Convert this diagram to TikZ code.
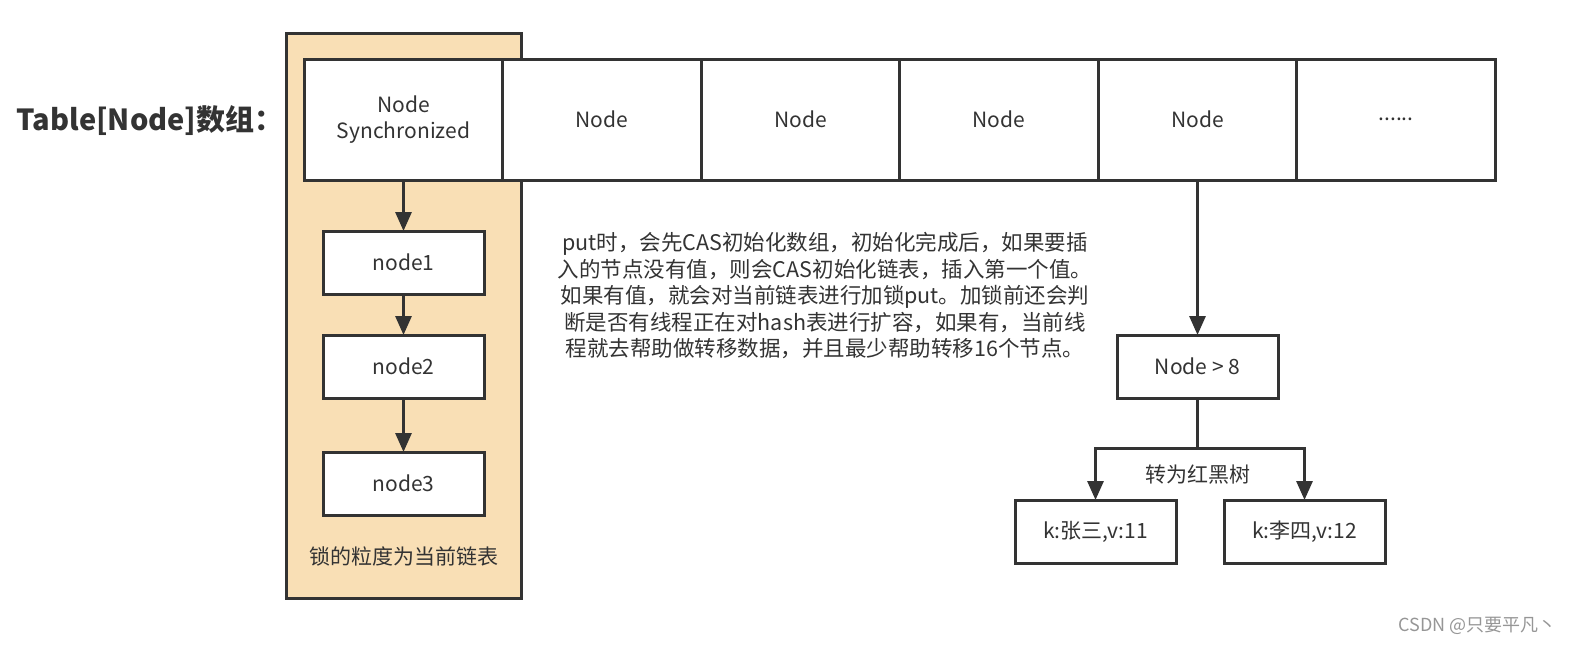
\documentclass[tikz,border=0pt]{standalone}
\usepackage{fontspec}
\setmainfont{Noto Sans CJK SC}
\usepackage{xcolor}
\definecolor{ink}{RGB}{51, 51, 51}
\definecolor{lockfill}{RGB}{249, 223, 181}
\definecolor{wmark}{RGB}{150, 150, 150}
\usetikzlibrary{arrows.meta,positioning}

\begin{document}
\begin{tikzpicture}[
  x=1pt, y=-1pt,
  cell/.style={draw=ink, fill=white, line width=3pt, minimum width=198.5pt, minimum height=121pt, outer sep=0pt, inner sep=0pt, font=\fontsize{21}{26}\selectfont, align=center, text=ink},
  item/.style={draw=ink, fill=white, line width=3pt, minimum width=161pt, minimum height=63pt, outer sep=0pt, font=\fontsize{21}{26}\selectfont, text=ink},
  lockarea/.style={draw=ink, fill=lockfill, line width=3pt, minimum width=235pt, minimum height=565pt, outer sep=0pt},
  txt/.style={font=\fontsize{21}{26.5}\selectfont, text=ink, align=center, inner sep=0pt},
  arrow/.style={-{Triangle[length=19pt,width=16pt]}, line width=3pt, draw=ink},
  line/.style={line width=3pt, draw=ink}
]
\useasboundingbox (0,0) rectangle (1572,646);

\node[lockarea] (lock) at (403.5,315.5) {};
\node[anchor=west, inner sep=0pt, text=ink, font=\bfseries\fontsize{29}{32}\selectfont] (title) at (16,121) {Table[Node]数组：};

\node[cell] (c1) at (403.5,119.5) {Node\\Synchronized};
\node[cell, right=0pt of c1] (c2) {Node};
\node[cell, right=0pt of c2] (c3) {Node};
\node[cell, right=0pt of c3] (c4) {Node};
\node[cell, right=0pt of c4] (c5) {Node};
\node[cell, right=0pt of c5] (c6) {......};

\node[item, below=51pt of c1] (n1) {node1};
\node[item, below=41pt of n1] (n2) {node2};
\node[item, below=54pt of n2] (n3) {node3};
\node[txt] (locktxt) at (404,556) {锁的粒度为当前链表};

\node[txt, font=\fontsize{21.5}{26.5}\selectfont] (note) at (825,296) {put时，会先CAS初始化数组，初始化完成后，如果要插\\入的节点没有值，则会CAS初始化链表，插入第一个值。\\如果有值，就会对当前链表进行加锁put。加锁前还会判\\断是否有线程正在对hash表进行扩容，如果有，当前线\\程就去帮助做转移数据，并且最少帮助转移16个节点。};

\node[item, below=155pt of c5] (big) {Node \textgreater{} 8};
\node[item, below=102pt of big, xshift=-102pt] (k1) {k:张三,v:11};
\node[item, below=102pt of big, xshift=107pt] (k2) {k:李四,v:12};

\draw[arrow] (c1) -- (n1);
\draw[arrow] (n1) -- (n2);
\draw[arrow] (n2) -- (n3);
\draw[arrow] (c5) -- (big);
\draw[line] (big.south) -- ++(0,50) coordinate (split);
\draw[arrow] (split) -| (k1);
\draw[arrow] (split) -| (k2);
\node[txt, below=17pt of split] (rbt) {转为红黑树};

\node[anchor=east, inner sep=0pt, text=wmark, font=\fontsize{18}{20}\selectfont] (wm) at (1557,626) {CSDN @只要平凡丶};
\end{tikzpicture}
\end{document}
